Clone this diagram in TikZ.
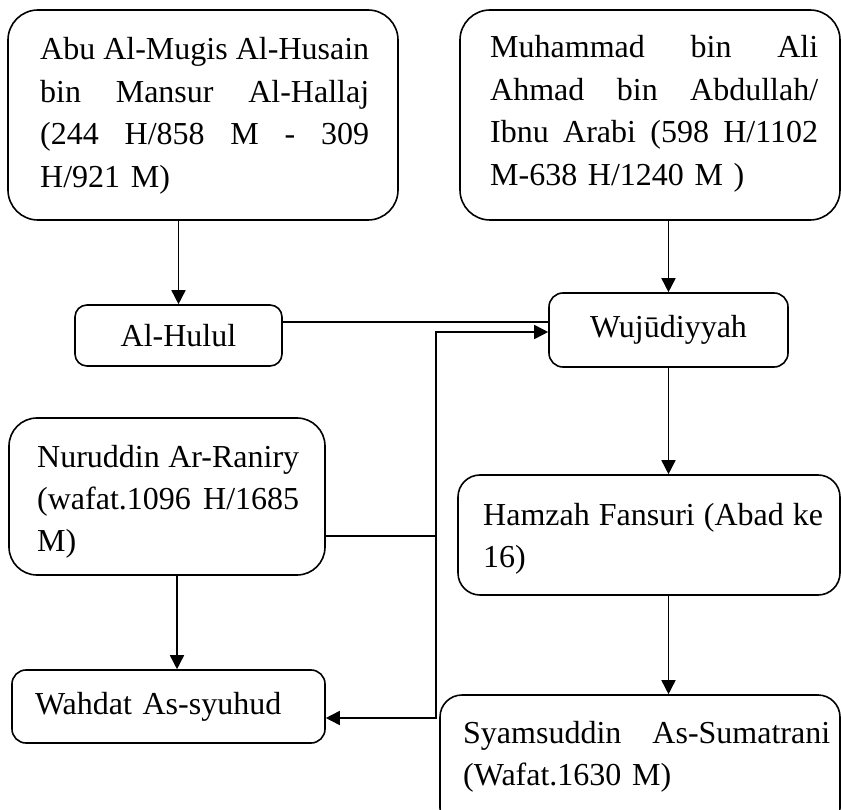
\documentclass[tikz,border=0pt]{standalone}
\usepackage{fontspec}
\setmainfont{Liberation Serif}
\usetikzlibrary{arrows.meta,calc}
\newcommand{\jline}[2]{\leavevmode\hbox to #1{#2}}
\begin{document}
\begin{tikzpicture}[x=1pt,y=-1pt,
  box/.style={draw, line width=1.6pt, rounded corners=#1, inner sep=0pt,
    font=\fontsize{32}{42.5}\selectfont},
  box/.default=14pt,
  txt/.style={font=\fontsize{32}{42.5}\selectfont, inner sep=0pt, align=left, anchor=base west},
  arr/.style={line width=1.6pt, -{Triangle[length=14pt,width=14pt]}},
  con/.style={line width=1.6pt}]
\clip (0,0) rectangle (841,810);
% boxes
\node[box=30pt, minimum width=390pt, minimum height=210pt] (A) at (203,115) {};
\node[txt, text width=329pt] (At) at (40,60)
  {\jline{329pt}{Abu\hfill Al-Mugis\hfill Al-Husain}\\\jline{329pt}{bin\hfill Mansur\hfill Al-Hallaj}\\\jline{329pt}{(244\hfill H/858\hfill M\hfill -\hfill 309}\\H/921 M)};
\node[box=30pt, minimum width=380pt, minimum height=210pt] (B) at (650,115) {};
\node[txt, text width=328pt] (Bt) at (490,58)
  {\jline{328pt}{Muhammad\hfill bin\hfill Ali}\\\jline{328pt}{Ahmad\hfill bin\hfill Abdullah/}\\\jline{328pt}{Ibnu\hfill Arabi\hfill (598\hfill H/1102}\\M-638 H/1240 M )};
\node[box=12pt, minimum width=207pt, minimum height=61pt] (H) at (178.5,335.5) {Al-Hulul};
\node[box=14pt, minimum width=239pt, minimum height=74pt] (W) at (668.5,330) {Wujūdiyyah};
\node[box=28pt, minimum width=316pt, minimum height=157pt] (N) at (167,496.5) {};
\node[txt, text width=262pt] (Nt) at (37,467)
  {\jline{262pt}{Nuruddin\hfill Ar-Raniry}\\\jline{262pt}{(wafat.1096\hfill H/1685}\\M)};
\node[box=22pt, minimum width=382pt, minimum height=120pt] (F) at (649,535) {};
\node[txt, text width=340pt] (Ft) at (483,525)
  {\jline{340pt}{Hamzah\hfill Fansuri\hfill (Abad\hfill ke}\\16)};
\node[box=14pt, minimum width=313pt, minimum height=73pt, text width=267pt,
  inner xsep=23pt, align=left] (D) at (168.5,706.5) {Wahdat As-syuhud};
\node[box=22pt, minimum width=400pt, minimum height=135pt] (S) at (640,762.5) {};
\node[txt, text width=367pt] (St) at (463,743)
  {\jline{367pt}{Syamsuddin\hfill As-Sumatrani}\\(Wafat.1630 M)};
% connectors
\coordinate (j1) at (436,536);
\coordinate (j2) at (436,718);
\coordinate (win) at ([yshift=-2pt]W.west);
\coordinate (hout) at ([yshift=13.5pt]H.east);
\draw[arr] (H.north |- A.south) -- (H.north);
\draw[arr] (W.north |- B.south) -- (W.north);
\draw[con] (hout) -- (hout -| W.west);
\draw[arr] (N.east |- j1) -- (j1) -- (j1 |- win) -- (win);
\draw[arr] (j1) -- (j2) -- (D.east |- j2);
\draw[arr] ([xshift=10pt]N.south) -- ([xshift=10pt]N.south |- D.north);
\draw[arr] (W.south) -- (W.south |- F.north);
\draw[arr] (W.south |- F.south) -- (W.south |- S.north);
\end{tikzpicture}
\end{document}
